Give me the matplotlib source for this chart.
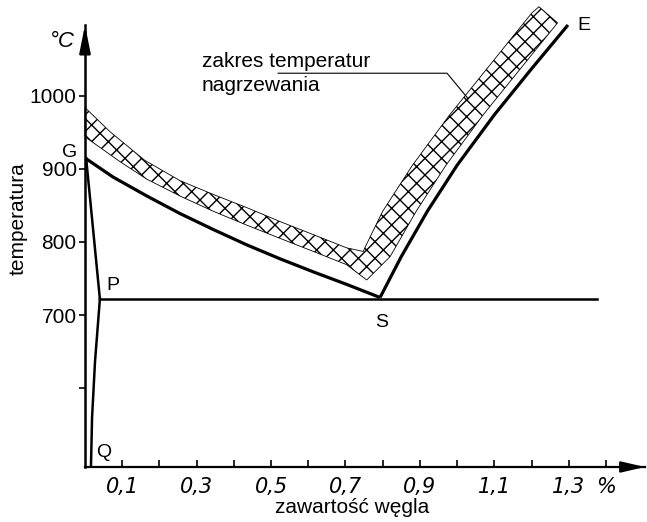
import numpy as np
import matplotlib
matplotlib.use('Agg')
import matplotlib.pyplot as plt
from matplotlib.patches import Polygon
from matplotlib.ticker import FixedLocator

plt.rcParams['font.family'] = ['Liberation Sans', 'DejaVu Sans']
plt.rcParams['hatch.linewidth'] = 1.0

# linia GS (A3)
gs_c = [0.0, 0.075, 0.166, 0.255, 0.345, 0.435, 0.524, 0.614, 0.703, 0.793]
gs_T = [915, 889, 863, 839, 817, 796, 777, 759, 742, 724]
# linia SE (Acm)
se_c = [0.793, 0.85, 0.92, 1.0, 1.1, 1.2, 1.298]
se_T = [724, 780, 842, 905, 974, 1037, 1097]
# linia PSK
psk_c = [0.04, 1.376]
psk_T = [722, 722]
# linie GP i PQ
gp_c = [0.003, 0.04]
gp_T = [915, 722]
pq_c = [0.04, 0.027, 0.019, 0.016]
pq_T = [722, 637, 560, 492]

# zakres temperatur nagrzewania (pas kreskowany)
band_low_c = [0.0, 0.094, 0.166, 0.255, 0.345, 0.435, 0.524, 0.614, 0.703, 0.757,
              0.82, 0.89, 0.97, 1.07, 1.17, 1.27]
band_low_T = [944, 910, 886, 863, 842, 823, 805, 787, 769, 748,
              780, 842, 905, 974, 1037, 1100]
band_up_c = [1.22, 1.20, 1.08, 0.98, 0.88, 0.80, 0.752,
             0.748, 0.703, 0.614, 0.524, 0.435, 0.345, 0.255, 0.16, 0.067, 0.0]
band_up_T = [1122, 1113, 1037, 974, 905, 842, 792,
             787, 792, 810, 828, 847, 865, 884, 912, 951, 984]

x_ticks = [0.1, 0.2, 0.3, 0.4, 0.5, 0.6, 0.7, 0.8, 0.9, 1.0, 1.1, 1.2, 1.3, 1.4]
x_labels = ['0,1', '', '0,3', '', '0,5', '', '0,7', '', '0,9', '', '1,1', '', '1,3', '%']
y_ticks = [600, 700, 800, 900, 1000]
y_labels = ['', '700', '800', '900', '1000']

fig = plt.figure(figsize=(6.47, 5.22), dpi=100)
ax = fig.add_axes([85 / 647, 55 / 522, 560 / 647, 442 / 522])
ax.set_xlim(0, 1.505)
ax.set_ylim(492, 1097)

for s in ['top', 'right']:
    ax.spines[s].set_visible(False)
ax.spines['left'].set_linewidth(1.8)
ax.spines['bottom'].set_linewidth(1.6)

# strzalki osi
ax.annotate('', xy=(1, 0), xytext=(0.96, 0), xycoords='axes fraction',
            arrowprops=dict(arrowstyle='-|>,head_length=1.3,head_width=0.3',
                            color='black', lw=1.6, mutation_scale=11, shrinkA=0, shrinkB=0))
ax.annotate('', xy=(0, 1), xytext=(0, 0.95), xycoords='axes fraction',
            arrowprops=dict(arrowstyle='-|>,head_length=1.5,head_width=0.3',
                            color='black', lw=1.8, mutation_scale=11, shrinkA=0, shrinkB=0))

band = Polygon(np.column_stack([band_low_c + band_up_c, band_low_T + band_up_T]),
               closed=True, facecolor='none', edgecolor='black', hatch='xx',
               linewidth=0.6, clip_on=False)
ax.add_patch(band)

ax.plot(gs_c, gs_T, color='black', lw=2.3, solid_capstyle='butt')
ax.plot(se_c, se_T, color='black', lw=2.3, solid_capstyle='butt', clip_on=False)
ax.plot(psk_c, psk_T, color='black', lw=1.8)
ax.plot(gp_c, gp_T, color='black', lw=1.8)
ax.plot(pq_c, pq_T, color='black', lw=1.8)

ax.xaxis.set_major_locator(FixedLocator(x_ticks))
ax.set_xticklabels(x_labels, fontsize=15, style='italic',
                   family=['Liberation Sans Narrow', 'DejaVu Sans'])
ax.tick_params(axis='x', direction='in', length=5, width=1.2, pad=7)
ax.yaxis.set_major_locator(FixedLocator(y_ticks))
ax.set_yticklabels(y_labels, fontsize=15)
ax.tick_params(axis='y', direction='out', length=4, width=1.2, pad=2)

ax.set_xlabel('zawartość węgla', fontsize=15)
ax.xaxis.set_label_coords(0.477, -0.07)
ax.set_ylabel('temperatura', fontsize=15)
ax.yaxis.set_label_coords(-0.103, 0.561)

ax.text(-0.062, 1074, '°C', fontsize=16, style='italic', ha='center', va='center')
ax.text(-0.04, 923, 'G', fontsize=14, ha='center', va='center')
ax.text(0.075, 740, 'P', fontsize=14, ha='center', va='center')
ax.text(0.796, 690, 'S', fontsize=14, ha='center', va='center')
ax.text(0.051, 512, 'Q', fontsize=14, ha='center', va='center')
ax.text(1.341, 1097, 'E', fontsize=14, ha='center', va='center', clip_on=False)

ax.text(0.3145, 1040, 'zakres temperatur', fontsize=15, va='baseline')
ax.text(0.3145, 1007, 'nagrzewania', fontsize=15, va='baseline')
ax.plot([0.519, 0.973, 1.03], [1031, 1031, 996], color='black', lw=0.8)

fig.savefig('out.png', dpi=100)
